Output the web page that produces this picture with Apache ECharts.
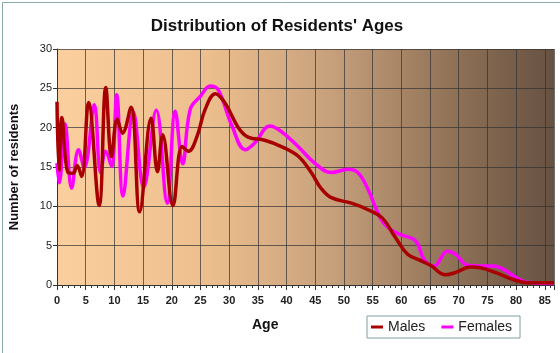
<!DOCTYPE html>
<html>
<head>
<meta charset="utf-8">
<title>Distribution of Residents' Ages</title>
<script src="https://cdn.jsdelivr.net/npm/echarts@6/dist/echarts.min.js"></script>
<style>
  html, body { margin: 0; padding: 0; background: #fff; }
  #chart { width: 560px; height: 353px; }
</style>
</head>
<body>
<div id="chart"></div>
<script>
// values: [age, residents]
var males = [
  [0, 23.3], [0.35, 14.6], [0.85, 21.3], [1.9, 14.3], [2.8, 14.2], [3.5, 15.2], [4.3, 13.8],
  [5.5, 23.2], [7.35, 10.1], [8.5, 25.1], [9.5, 16.3], [10.5, 21.1], [11.4, 19.3],
  [12.9, 22.6], [14.4, 9.3], [16.4, 21.2], [17.5, 14.4], [18.4, 19.1], [20.2, 10.1],
  [21.8, 17.6], [22.9, 17.0], [24.4, 18.9], [25.8, 22.3], [27.6, 24.3], [29.3, 23.1],
  [31.6, 20.0], [33.3, 18.8], [36.2, 18.4], [39.1, 17.6], [42, 16.4], [44.3, 14.3],
  [46, 12.3], [47.8, 11.1], [51.3, 10.4], [54.1, 9.6], [56.7, 8.5], [59, 6.0],
  [61.1, 3.9], [63.1, 3.2], [65.1, 2.5], [67.7, 1.3], [69.5, 1.6], [72, 2.3],
  [73.8, 2.2], [76.7, 1.5], [79.5, 0.7], [81.9, 0.3], [86.6, 0.3]
];
var females = [
  [0, 15.5], [0.4, 13.0], [1.4, 20.5], [2.55, 12.3], [3.75, 17.2], [4.75, 14.9],
  [6.5, 22.9], [7.6, 14.3], [8.5, 17.0], [9.5, 15.1], [10.4, 24.2], [11.5, 11.3],
  [13.3, 22.0], [15.1, 12.4], [17.3, 22.2], [19.2, 10.4], [20.6, 22.1], [21.9, 15.4],
  [23.2, 22.3], [25, 24.0], [26.7, 25.3], [28.1, 24.8], [30.5, 20.2], [32.8, 17.2],
  [34.5, 18.1], [37.1, 20.2], [39.1, 19.5], [42, 17.6], [44.9, 15.5], [47.8, 14.3],
  [50.7, 14.7], [52.4, 14.3], [54.1, 12.3], [56.5, 8.3], [58.2, 7.0], [59.9, 6.4],
  [62.5, 5.6], [64, 3.2], [65.7, 2.4], [68, 4.3], [69.5, 3.9], [71.5, 2.5],
  [73.8, 2.4], [76.1, 2.4], [77.8, 2.0], [80.1, 0.9], [81.9, 0.35], [86.6, 0.2]
];
var seriesNames = ['Males', 'Females'];
var ageMax = 86.6;
var residentsMax = 30;

var chart = echarts.init(document.getElementById('chart'));
var font = 'Liberation Sans, Arial, sans-serif';

chart.setOption({
  animation: false,
  title: {
    text: "Distribution of Residents' Ages",
    left: 272, textAlign: 'center', top: 13,
    textStyle: { fontFamily: font, fontSize: 17, fontWeight: 'bold', color: '#111' }
  },
  legend: {
    data: seriesNames,
    left: 367, top: 316,
    padding: [4, 8, 4, 4],
    itemGap: 16,
    itemWidth: 12, itemHeight: 3,
    icon: 'rect',
    borderColor: '#7f9f9f', borderWidth: 1,
    textStyle: { fontFamily: font, fontSize: 14, color: '#222' }
  },
  grid: {
    left: 54, right: 6, top: 49, bottom: 68,
    show: true, borderWidth: 0,
    backgroundColor: new echarts.graphic.LinearGradient(0, 0, 1, 0, [
      { offset: 0, color: '#fccf9e' },
      { offset: 0.3, color: '#edbf8e' },
      { offset: 0.55, color: '#c7a07c' },
      { offset: 0.8, color: '#8f7156' },
      { offset: 1, color: '#665142' }
    ])
  },
  xAxis: {
    type: 'value', min: 0, max: ageMax, interval: 5,
    axisLine: { show: true, lineStyle: { color: '#333' } },
    axisTick: { show: true, length: 5, lineStyle: { color: '#333' } },
    minorTick: { show: true, splitNumber: 5, length: 3, lineStyle: { color: '#333' } },
    axisLabel: {
      fontFamily: font, fontSize: 11, fontWeight: 'bold', color: '#222', margin: 10,
      showMaxLabel: false
    },
    splitLine: { show: true, lineStyle: { color: 'rgba(50,50,50,0.7)' } }
  },
  yAxis: {
    type: 'value', min: 0, max: residentsMax, interval: 5,
    name: 'Number of residents', nameLocation: 'middle', nameGap: 36,
    nameTextStyle: { fontFamily: font, fontSize: 13, fontWeight: 'bold', color: '#111' },
    axisLine: { show: true, lineStyle: { color: '#333' } },
    axisTick: { show: true, length: 4, lineStyle: { color: '#333' } },
    axisLabel: { fontFamily: font, fontSize: 11, color: '#222', margin: 5 },
    splitLine: { show: true, lineStyle: { color: 'rgba(50,50,50,0.7)' } }
  },
  graphic: [
    {
      type: 'text', left: 267 - 15, top: 318,
      style: { text: 'Age', fontFamily: font, fontSize: 14, fontWeight: 'bold', fill: '#111' }
    },
    {
      type: 'rect', left: 0, top: 0, silent: true,
      shape: { width: 559, height: 352 },
      style: { fill: 'none', stroke: '#8aa', lineWidth: 1 }
    }
  ],
  series: [
    {
      name: seriesNames[0], type: 'line', data: males, smooth: 0.4,
      showSymbol: false, color: '#a80000',
      lineStyle: { width: 3.5, color: '#a80000' }, z: 3
    },
    {
      name: seriesNames[1], type: 'line', data: females, smooth: 0.4,
      showSymbol: false, color: '#ff00ff',
      lineStyle: { width: 3.5, color: '#ff00ff' }, z: 2
    }
  ]
});
</script>
</body>
</html>
